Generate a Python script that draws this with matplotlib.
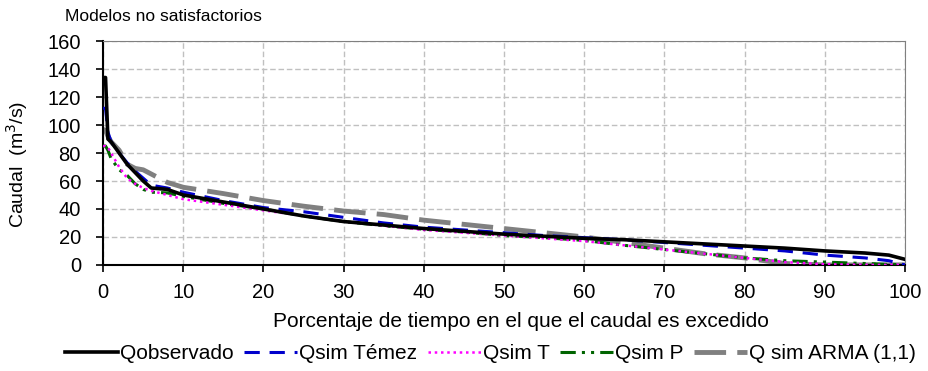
import matplotlib.pyplot as plt

plt.rcParams['font.family'] = ['Liberation Sans', 'DejaVu Sans']

# porcentaje de tiempo excedido
pct = [0, 0.3, 0.6, 1, 2, 3, 4, 5, 6, 8, 10, 15, 20, 25, 30, 35, 40, 45, 50,
       55, 60, 65, 70, 75, 80, 85, 90, 95, 98, 100]

q_obs = [134, 134, 90, 88, 80, 72, 66, 60, 55, 54, 50, 45, 40, 35, 31, 28.5, 26,
         24, 22, 20.5, 19, 18, 16.5, 15, 13.5, 12, 10, 8.5, 7, 4]
q_temez = [112, 112, 95, 88, 80, 73, 67, 62, 57, 55, 52, 46, 41, 38, 34, 30, 27,
           25, 23, 21, 19.5, 18, 16, 14, 12, 10, 7, 5, 3, 0]
q_t = [85, 85, 84, 80, 70, 62, 58, 55, 53, 50, 47, 43, 39, 35, 31, 28, 25,
       23, 21, 19, 17, 14, 11, 8, 5, 2, 0.5, 0, 0, 0]
q_p = [85, 85, 82, 76, 68, 64, 58, 54, 52, 51.5, 49, 44, 40, 35, 31, 28, 25.5,
       23.5, 21, 19.5, 17.5, 14, 11, 8, 5, 3, 2, 1, 0.5, 0]
q_arma = [97, 96, 92, 88, 82, 72, 69, 68, 65, 59, 55.5, 51, 46, 42, 38.5, 36, 32,
          29, 26, 23, 20, 16, 12, 8, 5, 1, 0, 0, 0, 0]

labels = ['Qobservado', 'Qsim Témez', 'Qsim T', 'Qsim P', 'Q sim ARMA (1,1)']

fig = plt.figure(figsize=(9.29, 3.71), dpi=100)
ax = fig.add_axes([0.111, 0.286, 0.863, 0.603])

ax.plot(pct, q_arma, color='#808080', lw=3.5, ls=(0, (6.5, 2.3)), label=labels[4], zorder=2)
ax.plot(pct, q_p, color='#006400', lw=2.2, ls=(0, (5, 2, 1, 2, 1, 2)), label=labels[3], zorder=3)
ax.plot(pct, q_t, color='#ff00ff', lw=1.8, ls=(0, (1, 1.5)), label=labels[2], zorder=4)
ax.plot(pct, q_temez, color='#0000cc', lw=2.2, ls=(0, (5, 3.2)), label=labels[1], zorder=4)
ax.plot(pct, q_obs, color='black', lw=2.6, label=labels[0], zorder=5)

ax.set_xlim(0, 100)
ax.set_ylim(0, 160)
ax.set_xticks(range(0, 101, 10))
ax.set_yticks(range(0, 161, 20))
ax.grid(True, color='#c0c0c0', ls=(0, (4, 2)), lw=1)
ax.set_axisbelow(True)
ax.tick_params(labelsize=14.5, direction='out', length=5, width=1.2)
ax.tick_params(axis='y', pad=11)
ax.tick_params(axis='x', pad=8)
for s in ['top', 'right']:
    ax.spines[s].set_color('#808080')
for s in ['left', 'bottom']:
    ax.spines[s].set_linewidth(1.5)

fig.text(17 / 929, 1 - 164 / 371, 'Caudal  (m$^3$/s)', fontsize=14, rotation=90,
         ha='center', va='center')
ax.set_xlabel('Porcentaje de tiempo en el que el caudal es excedido', fontsize=15)
ax.xaxis.set_label_coords(0.521, -0.21)
fig.text(0.07, 0.955, 'Modelos no satisfactorios', fontsize=12.5, va='center')

h, l = ax.get_legend_handles_labels()
order = [4, 3, 2, 1, 0]
fig.legend([h[i] for i in order], [l[i] for i in order], ncol=5, loc='lower center',
           bbox_to_anchor=(0.528, -0.03), frameon=False, fontsize=15, handlelength=2.55,
           handletextpad=0.1, columnspacing=0.5)

fig.savefig('out.png', dpi=100)
